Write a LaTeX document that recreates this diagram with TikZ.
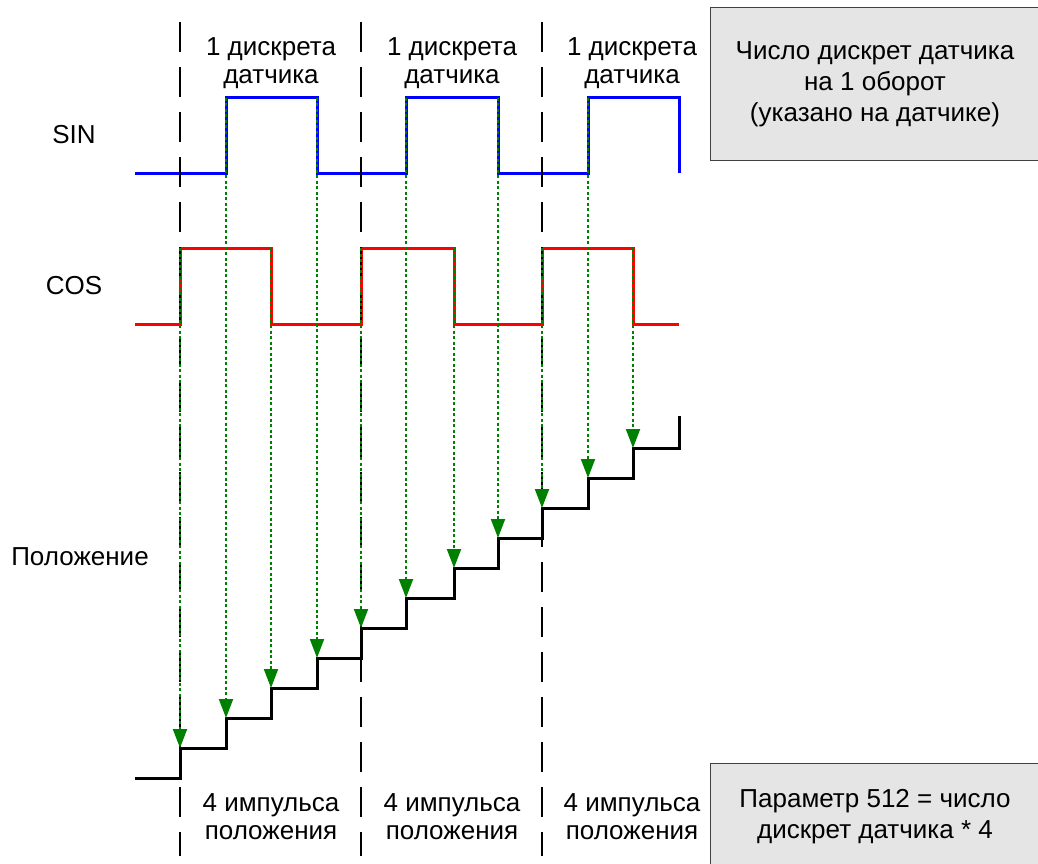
\documentclass[tikz,border=0pt]{standalone}
\usepackage{fontspec}
\setmainfont{Liberation Sans}
\usetikzlibrary{arrows.meta}

\tikzset{
  sigline/.style={line width=3pt},
  sepline/.style={black, line width=1.8pt, dash pattern=on 30pt off 15pt},
  pulse/.style={green!50!black, line width=2pt, dash pattern=on 3pt off 2.5pt,
    -{Triangle[width=14pt,length=19pt]}},
  lbl/.style={align=center, font=\fontsize{26}{28}\selectfont, inner sep=0pt},
  infobox/.style={lbl, font=\fontsize{26}{31}\selectfont, draw=black!75,
    line width=1pt, fill=black!10, minimum width=330pt}
}

\begin{document}
\begin{tikzpicture}[x=1pt,y=-1pt]
  \useasboundingbox (0,0) rectangle (1038,864);

  % Signal names
  \node[lbl] (sin) at (74,135) {SIN};
  \node[lbl] (cos) at (74,286) {COS};
  \node[lbl] (pos) at (80,557) {Положение};

  % SIN and COS signals
  \draw[sigline, blue] (135,173) -| (226,98) -| (317,173) -| (406,98)
    -| (498,173) -| (588,98) -| (679,173);
  \draw[sigline, red] (135,324) -| (180,248) -| (271,324) -| (361,248)
    -| (454,324) -| (542,248) -| (633,324) -- (679,324);

  % Position counter
  \draw[sigline, black] (135,778) -| (180,748) -| (226,718) -| (271,688)
    -| (317,658) -| (361,628) -| (406,598) -| (454,568) -| (498,538)
    -| (542,508) -| (588,478) -| (633,448) -| (679,416);

  % Period borders
  \foreach \x [count=\i] in {180,361,542} {
    \coordinate (ptop\i) at (\x,22);
    \coordinate (pbot\i) at (\x,856);
    \draw[sepline] (ptop\i) -- (pbot\i);
  }

  % Edges -> counter steps
  \foreach \x/\y [count=\i] in {180/248,226/98,271/248,317/98,361/248,406/98,
                                454/248,498/98,542/248,588/98,633/248} {
    \coordinate (edge\i) at (\x,\y);
    \coordinate (step\i) at (\x,778-30*\i);
    \draw[pulse] (edge\i) -- (step\i);
  }

  % Period labels
  \foreach \x [count=\i] in {271,452,632} {
    \node[lbl] (disc\i) at (\x,63) {1 дискрета\\датчика};
    \node[lbl] (imp\i) at (\x,817) {4 импульса\\положения};
  }

  % Notes
  \node[infobox, minimum height=152pt] (note) at (875,84)
    {Число дискрет датчика\\на 1 оборот\\(указано на датчике)};
  \node[infobox, minimum height=108pt] (param) at (875,817)
    {Параметр 512 = число\\дискрет датчика * 4};
\end{tikzpicture}
\end{document}
